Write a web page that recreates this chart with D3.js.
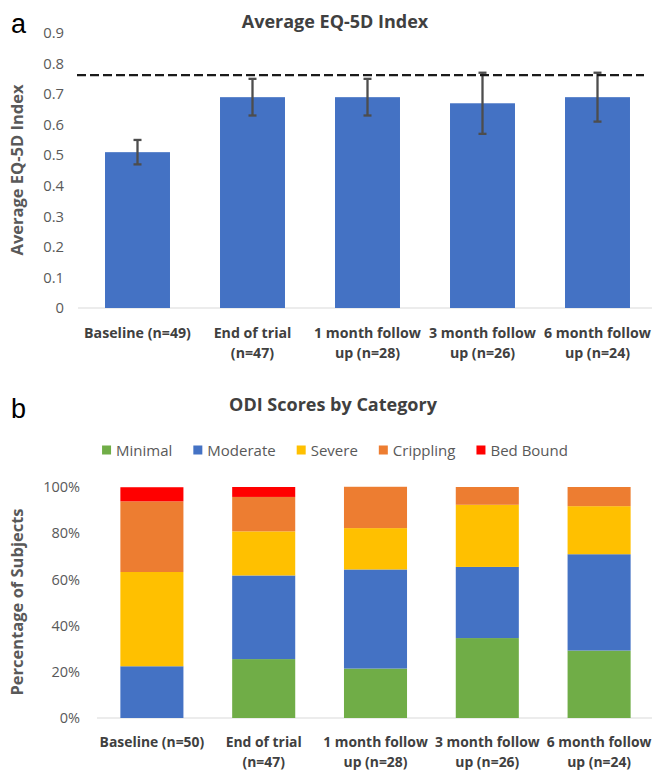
<!DOCTYPE html>
<html>
<head>
<meta charset="utf-8">
<script src="https://cdn.jsdelivr.net/npm/d3@7"></script>
<style>
  body { margin: 0; background: #fff; }
  text { font-family: "Open Sans", sans-serif; }
</style>
</head>
<body>
<div id="chart"></div>
<script>
// panel a data
const eqCategories = ["Baseline (n=49)", "End of trial\n(n=47)", "1 month follow\nup (n=28)", "3 month follow\nup (n=26)", "6 month follow\nup (n=24)"];
const eqMeans = [0.51, 0.69, 0.69, 0.67, 0.69];
const eqErrors = [0.04, 0.06, 0.06, 0.10, 0.08];
const eqReference = 0.762;
const eqTicks = [0, 0.1, 0.2, 0.3, 0.4, 0.5, 0.6, 0.7, 0.8, 0.9];

// panel b data (percent of subjects)
const odiCategories = ["Baseline (n=50)", "End of trial\n(n=47)", "1 month follow\nup (n=28)", "3 month follow\nup (n=26)", "6 month follow\nup (n=24)"];
const odiSeries = ["Minimal", "Moderate", "Severe", "Crippling", "Bed Bound"];
const odiMinimal = [0, 25.5, 21.4, 34.6, 29.2];
const odiModerate = [22.4, 36.2, 42.9, 30.8, 41.7];
const odiSevere = [40.8, 19.1, 17.9, 26.9, 20.8];
const odiCrippling = [30.6, 14.9, 17.9, 7.7, 8.3];
const odiBedBound = [6.1, 4.3, 0, 0, 0];
const odiTicks = [0, 20, 40, 60, 80, 100];
const odiColors = ["#70ad47", "#4472c4", "#ffc000", "#ed7d31", "#ff0000"];

const width = 652, height = 770;
const svg = d3.select("#chart").append("svg")
    .attr("width", width)
    .attr("height", height);

function multiline(sel, lineHeight) {
    sel.each(function (d) {
        let t = d3.select(this);
        d.split("\n").forEach((line, i) => {
            t.append("tspan").attr("x", 0).attr("dy", i == 0 ? 0 : lineHeight).text(line);
        });
    });
}

// ---------- panel a ----------
let xA = d3.scaleBand().domain(eqCategories).range([80, 655]).paddingInner(0.435).paddingOuter(0.2175);
let yA = d3.scaleLinear().domain([0, 0.9]).range([308, 33]);

svg.append("text").attr("x", 11).attr("y", 33)
    .style("font-family", "'Liberation Sans', Arial, sans-serif")
    .style("font-size", "27px").attr("fill", "#000").text("a");

svg.append("text").attr("x", 335).attr("y", 28)
    .attr("text-anchor", "middle").style("font-size", "18px").style("font-weight", "bold")
    .attr("fill", "#404040").text("Average EQ-5D Index");

let yAxisA = svg.append("g").attr("transform", "translate(64,0)")
    .call(d3.axisLeft(yA).tickValues(eqTicks).tickSize(0).tickPadding(0).tickFormat(d => d == 0 ? "0" : d3.format(".1f")(d)));
yAxisA.select(".domain").remove();
yAxisA.selectAll("text").style("font-size", "14.8px").style("font-family", "'Open Sans', sans-serif").attr("fill", "#595959");

svg.append("text")
    .attr("transform", "translate(23,170) rotate(-90)")
    .attr("text-anchor", "middle").style("font-size", "16.5px").style("font-weight", "bold")
    .attr("fill", "#595959").text("Average EQ-5D Index");

svg.append("line").attr("x1", 78).attr("x2", 652).attr("y1", yA(0)).attr("y2", yA(0))
    .attr("stroke", "#d9d9d9").attr("stroke-width", 1);

svg.selectAll("rect.eq").data(eqMeans).enter().append("rect")
    .attr("class", "eq")
    .attr("x", (d, i) => xA(eqCategories[i]))
    .attr("width", xA.bandwidth())
    .attr("y", d => yA(d))
    .attr("height", d => yA(0) - yA(d))
    .attr("fill", "#4472c4");

let errG = svg.append("g").attr("stroke", "#4d4d4d").attr("stroke-width", 2.3);
eqMeans.forEach((m, i) => {
    let cx = xA(eqCategories[i]) + xA.bandwidth() / 2;
    let lo = yA(m - eqErrors[i]), hi = yA(m + eqErrors[i]);
    errG.append("line").attr("x1", cx).attr("x2", cx).attr("y1", lo).attr("y2", hi);
    errG.append("line").attr("x1", cx - 4).attr("x2", cx + 4).attr("y1", lo).attr("y2", lo);
    errG.append("line").attr("x1", cx - 4).attr("x2", cx + 4).attr("y1", hi).attr("y2", hi);
});

svg.append("line").attr("x1", 77).attr("x2", 644)
    .attr("y1", yA(eqReference)).attr("y2", yA(eqReference))
    .attr("stroke", "#1a1a1a").attr("stroke-width", 2.4).attr("stroke-dasharray", "9,4");

svg.selectAll("text.xa").data(eqCategories).enter().append("text")
    .attr("class", "xa")
    .attr("transform", d => `translate(${xA(d) + xA.bandwidth() / 2},338)`)
    .attr("text-anchor", "middle").style("font-size", "14.2px").style("font-weight", "bold")
    .attr("fill", "#404040")
    .call(multiline, 20);

// ---------- panel b ----------
let xB = d3.scaleBand().domain(odiCategories).range([96, 655]).paddingInner(0.436).paddingOuter(0.218);
let yB = d3.scaleLinear().domain([0, 100]).range([718, 487]);

svg.append("text").attr("x", 11).attr("y", 418)
    .style("font-family", "'Liberation Sans', Arial, sans-serif")
    .style("font-size", "27px").attr("fill", "#000").text("b");

svg.append("text").attr("x", 333).attr("y", 411)
    .attr("text-anchor", "middle").style("font-size", "18px").style("font-weight", "bold")
    .attr("fill", "#404040").text("ODI Scores by Category");

// legend
let legend = svg.append("g").attr("transform", "translate(0,450)");
let lx = 0;
odiSeries.forEach((s, i) => {
    let item = legend.append("g").attr("transform", `translate(${lx},0)`);
    item.append("rect").attr("x", 0).attr("y", -4.5).attr("width", 9).attr("height", 9).attr("fill", odiColors[i]);
    let t = item.append("text").attr("x", 14).attr("y", 5.5).style("font-size", "15px")
        .attr("fill", "#595959").text(s);
    lx += 14 + t.node().getComputedTextLength() + 21;
});
lx -= 21;
legend.attr("transform", `translate(${335 - lx / 2},450)`);

let yAxisB = svg.append("g").attr("transform", "translate(80,0)")
    .call(d3.axisLeft(yB).tickValues(odiTicks).tickSize(0).tickPadding(0).tickFormat(d => d + "%"));
yAxisB.select(".domain").remove();
yAxisB.selectAll("text").style("font-size", "14.5px").style("font-family", "'Open Sans', sans-serif").attr("fill", "#595959");

svg.append("text")
    .attr("transform", "translate(23,602) rotate(-90)")
    .attr("text-anchor", "middle").style("font-size", "16.5px").style("font-weight", "bold")
    .attr("fill", "#595959").text("Percentage of Subjects");

svg.append("line").attr("x1", 97).attr("x2", 652).attr("y1", yB(0)).attr("y2", yB(0))
    .attr("stroke", "#d9d9d9").attr("stroke-width", 1);

let odiRows = odiCategories.map((c, i) => ({
    cat: c,
    "Minimal": odiMinimal[i],
    "Moderate": odiModerate[i],
    "Severe": odiSevere[i],
    "Crippling": odiCrippling[i],
    "Bed Bound": odiBedBound[i]
}));
let stacked = d3.stack().keys(odiSeries)(odiRows);

svg.selectAll("g.layer").data(stacked).enter().append("g")
    .attr("class", "layer")
    .attr("fill", (d, i) => odiColors[i])
    .selectAll("rect").data(d => d).enter().append("rect")
    .attr("x", d => xB(d.data.cat))
    .attr("width", xB.bandwidth())
    .attr("y", d => yB(d[1]))
    .attr("height", d => yB(d[0]) - yB(d[1]));

svg.selectAll("text.xb").data(odiCategories).enter().append("text")
    .attr("class", "xb")
    .attr("transform", d => `translate(${xB(d) + xB.bandwidth() / 2},747)`)
    .attr("text-anchor", "middle").style("font-size", "13.9px").style("font-weight", "bold")
    .attr("fill", "#404040")
    .call(multiline, 20);
</script>
</body>
</html>
